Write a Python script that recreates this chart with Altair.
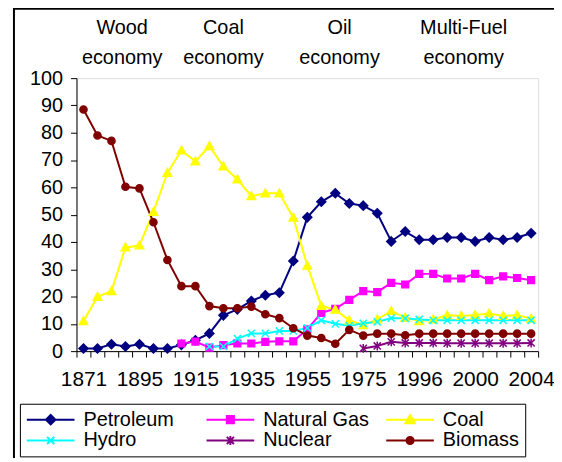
import altair as alt
import pandas as pd

years = ["1871", "1880", "1885", "1890", "1895", "1900", "1905", "1910", "1915",
         "1920", "1925", "1930", "1935", "1940", "1945", "1950", "1955", "1960",
         "1965", "1970", "1975", "1980", "1985", "1990", "1996", "1997", "1998",
         "1999", "2000", "2001", "2002", "2003", "2004"]
shown_years = ["1871", "1895", "1915", "1935", "1955", "1975", "1996", "2000", "2004"]

series_names = ["Petroleum", "Natural Gas", "Coal", "Hydro", "Nuclear", "Biomass"]
colors = ["#000080", "#FF00FF", "#FFFF00", "#00FFFF", "#800080", "#800000"]

petroleum = [1.0, 1.0, 2.5, 1.7, 2.5, 1.0, 1.0, 2.3, 4.0, 6.5, 13.1, 15.3, 18.4, 20.5,
             21.4, 33.0, 49.0, 54.7, 57.8, 54.1, 53.3, 50.5, 40.2, 43.8, 40.8, 40.8,
             41.6, 41.6, 40.2, 41.6, 40.8, 41.6, 43.2]
natural_gas = [None] * 7 + [2.8, 3.5, 1.3, 2.2, 2.8, 2.8, 3.4, 3.6, 3.6, 8.0, 14.0,
                            15.5, 18.8, 22.0, 21.6, 25.0, 24.4, 28.3, 28.3, 26.6,
                            26.6, 28.3, 26.0, 27.4, 26.8, 26.0]
coal = [11.0, 19.9, 22.0, 38.0, 38.7, 51.0, 65.3, 73.5, 69.5, 75.1, 67.7, 62.9, 56.8,
        57.8, 57.8, 48.9, 31.3, 16.6, 15.2, 11.3, 9.5, 11.6, 14.7, 12.3, 11.0, 11.6,
        13.2, 12.9, 13.2, 13.8, 12.9, 13.2, 11.9]
hydro = [None] * 9 + [1.7, 1.7, 4.6, 6.5, 6.5, 7.4, 7.4, 8.5, 11.3, 10.0, 9.3, 10.2,
                      10.7, 12.1, 12.0, 11.6, 11.3, 11.3, 11.3, 11.3, 11.3, 11.3,
                      11.3, 11.3]
nuclear = [None] * 20 + [1.0, 1.9, 3.4, 3.0, 3.0, 3.0, 2.9, 2.9, 2.9, 2.9, 2.9, 2.9, 3.0]
biomass = [88.5, 79.0, 77.0, 60.2, 59.6, 47.2, 33.4, 23.8, 23.8, 16.5, 15.7, 15.7,
           16.3, 13.5, 12.1, 8.4, 5.7, 4.8, 2.7, 7.8, 5.7, 6.4, 6.4, 5.8, 6.4, 6.4,
           6.4, 6.4, 6.4, 6.4, 6.4, 6.4, 6.4]

eras = ["Wood", "Coal", "Oil", "Multi-Fuel"]
era_suffix = "economy"

FONT = "Liberation Sans"

rows = []
for name, vals in zip(series_names, [petroleum, natural_gas, coal, hydro, nuclear, biomass]):
    for yr, v in zip(years, vals):
        if v is not None:
            rows.append({"year": yr, "series": name, "value": v})
df = pd.DataFrame(rows)

# marker shapes on the plot (unit box -1..1)
plot_shapes = [
    "M0,-1L1,0L0,1L-1,0Z",
    "M-0.75,-0.75H0.75V0.75H-0.75Z",
    "M0,-0.95L0.95,0.75H-0.95Z",
    "M-0.8,-0.8L0.8,0.8M-0.8,0.8L0.8,-0.8",
    "M-0.8,-0.8L0.8,0.8M-0.8,0.8L0.8,-0.8M0,-1V1",
    "M-0.8,0A0.8,0.8,0,1,0,0.8,0A0.8,0.8,0,1,0,-0.8,0Z",
]
# legend symbols: line + marker
legend_shapes = [
    "M-1,0H1M0,-0.2L0.2,0L0,0.2L-0.2,0Z",
    "M-1,0H1M-0.15,-0.15H0.15V0.15H-0.15Z",
    "M-1,0H1M0,-0.19L0.2,0.15H-0.2Z",
    "M-1,0H1M-0.15,-0.15L0.15,0.15M-0.15,0.15L0.15,-0.15",
    "M-1,0H1M-0.15,-0.15L0.15,0.15M-0.15,0.15L0.15,-0.15M0,-0.19V0.19",
    "M-1,0H1M-0.15,0A0.15,0.15,0,1,0,0.15,0A0.15,0.15,0,1,0,-0.15,0Z",
]

x_enc = alt.X(
    "year:N", sort=years,
    scale=alt.Scale(type="band", domain=years, paddingInner=0, paddingOuter=0),
    axis=alt.Axis(
        title=None, labelAngle=0, tickBand="extent", tickSize=6, tickColor="black",
        domainColor="black", labelFont=FONT, labelFontSize=21, labelColor="black",
        labelPadding=12, labelOverlap=False,
        labelExpr="indexof(" + str(shown_years) + ", datum.value) >= 0 ? datum.label : ''",
    ),
)
y_enc = alt.Y(
    "value:Q",
    scale=alt.Scale(domain=[0, 100], nice=False),
    axis=alt.Axis(
        title=None, values=list(range(0, 101, 10)), grid=False, tickSize=6,
        tickColor="black", domainColor="black", labelFont=FONT, labelFontSize=20,
        labelColor="black", labelPadding=8,
    ),
)

base = alt.Chart(df)

lines = base.mark_line(strokeWidth=2).encode(
    x=x_enc, y=y_enc,
    stroke=alt.Stroke("series:N", scale=alt.Scale(domain=series_names, range=colors), legend=None),
)

points = base.mark_point(filled=True, opacity=1, strokeWidth=1.5, size=81).encode(
    x=x_enc, y=y_enc,
    fill=alt.Fill("series:N", scale=alt.Scale(domain=series_names, range=colors), legend=None),
    stroke=alt.Stroke("series:N", scale=alt.Scale(domain=series_names, range=colors), legend=None),
    shape=alt.Shape("series:N", scale=alt.Scale(domain=series_names, range=plot_shapes), legend=None),
)

leg = alt.Legend(
    title=None, orient="none", legendX=-57, legendY=328, direction="horizontal",
    columns=3, gridAlign="all", columnPadding=16, rowPadding=1, clipHeight=20,
    labelFont=FONT, labelFontSize=20, labelColor="black", labelLimit=400,
    labelExpr="datum.label == 'Biomass' ? datum.label + '\u00a0\u00a0\u00a0\u00a0\u00a0\u00a0' : datum.label",
    labelOffset=8, symbolSize=2304, symbolStrokeWidth=2, padding=6,
    strokeColor="black", fillColor="white", cornerRadius=0,
)
legend_layer = base.transform_filter("false").mark_point(filled=True, opacity=1, strokeWidth=2).encode(
    x=x_enc, y=y_enc,
    fill=alt.Fill("series:N", scale=alt.Scale(domain=series_names, range=colors), legend=leg),
    stroke=alt.Stroke("series:N", scale=alt.Scale(domain=series_names, range=colors), legend=leg),
    shape=alt.Shape("series:N", scale=alt.Scale(domain=series_names, range=legend_shapes), legend=leg),
)

one = alt.Data(values=[{"k": 0}])
era_x = [46, 148, 265, 390]
era_layers = []
for name, xp in zip(eras, era_x):
    era_layers.append(
        alt.Chart(one).mark_text(
            font=FONT, fontSize=20, color="black", align="center",
            baseline="alphabetic", lineHeight=30,
        ).encode(x=alt.value(xp), y=alt.value(-44), text=alt.value([name, era_suffix]))
    )

frame = alt.Chart(one).mark_rect(fillOpacity=0, stroke="black", strokeWidth=2).encode(
    x=alt.value(-63), x2=alt.value(700), y=alt.value(-70), y2=alt.value(700))

chart = alt.layer(
    frame, lines, points, legend_layer, *era_layers
).resolve_scale(
    fill="independent", stroke="independent", shape="independent"
).resolve_legend(
    fill="independent", stroke="independent", shape="independent"
).properties(
    width=465, height=275,
    autosize=alt.AutoSizeParams(type="none"),
    padding={"left": 69, "top": 69, "right": 16, "bottom": 106},
).configure_view(
    stroke="#8c8c8c", strokeWidth=2
).configure(background="white")

chart.save("out.html", embed_options={"renderer": "svg", "actions": False})
